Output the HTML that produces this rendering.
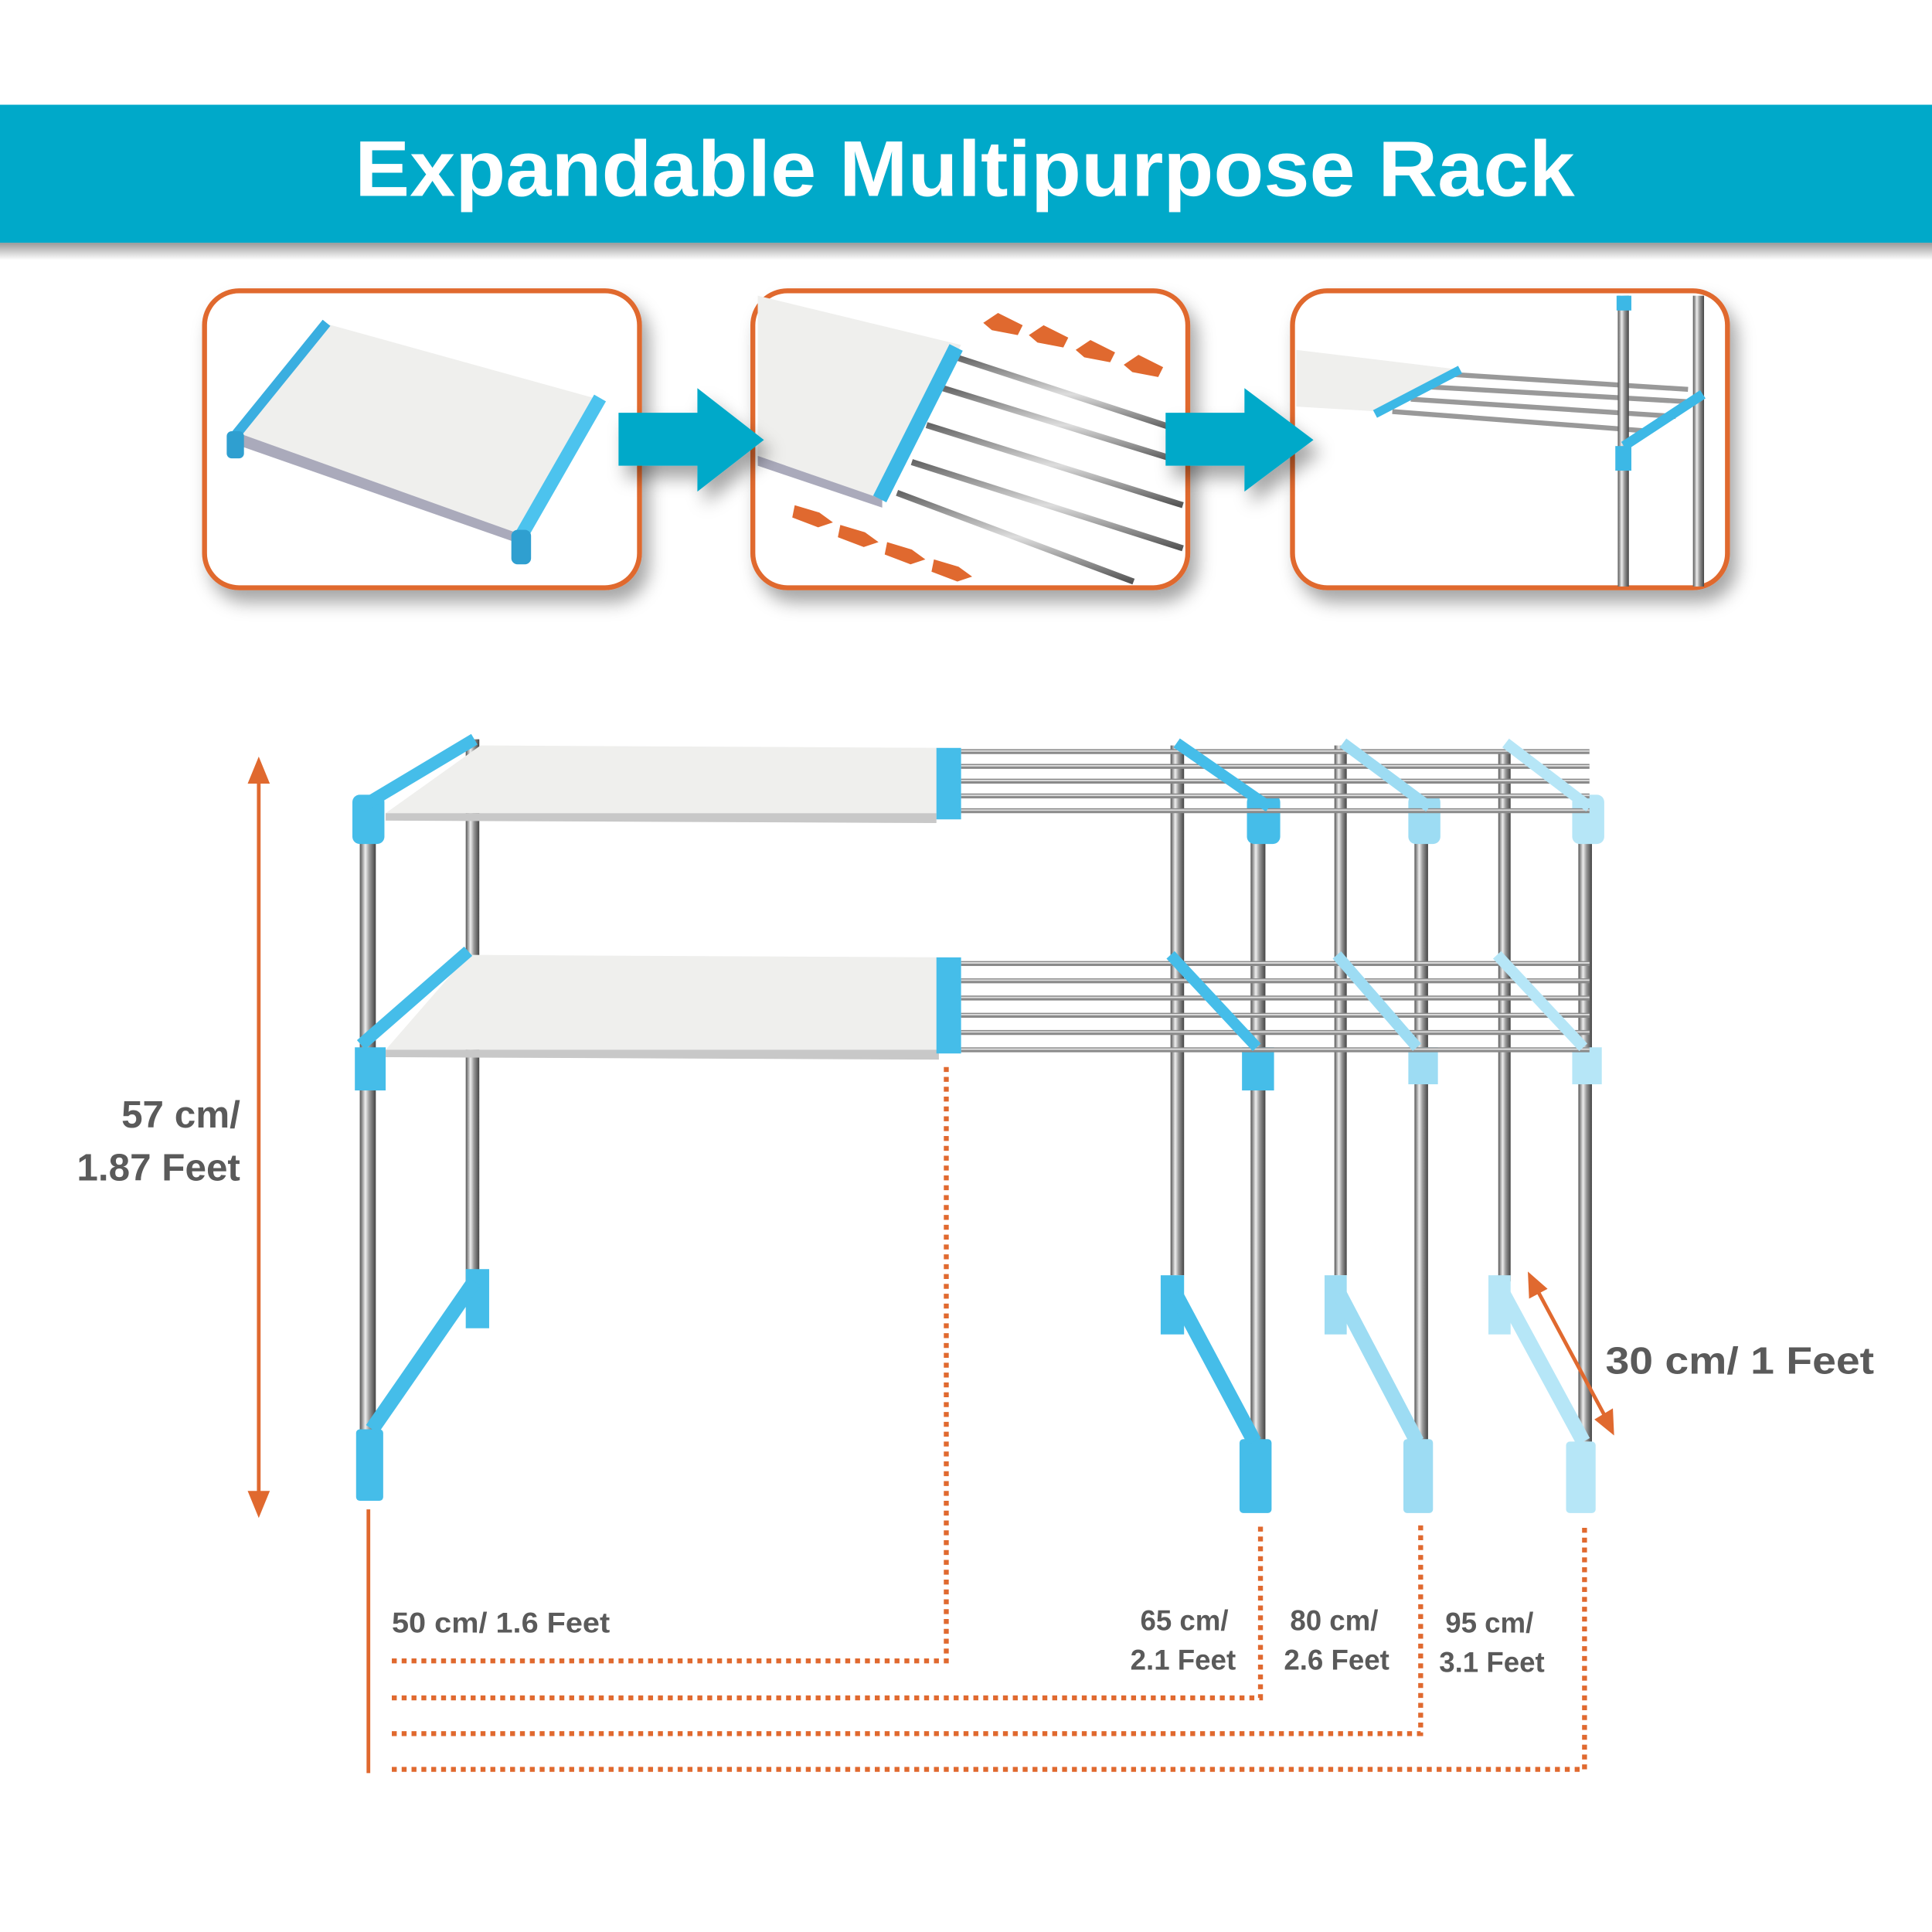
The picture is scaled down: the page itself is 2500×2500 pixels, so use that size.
<!DOCTYPE html>
<html><head><meta charset="utf-8"><style>
html,body{margin:0;padding:0;background:#fff;}
svg{display:block;}
</style></head><body>
<svg width="2500" height="2500" viewBox="0 0 1568 1568" xmlns="http://www.w3.org/2000/svg" font-family="Liberation Sans, sans-serif">
<defs>
<linearGradient id="steel" x1="0" x2="1" y1="0" y2="0">
<stop offset="0" stop-color="#555"/><stop offset="0.35" stop-color="#eee"/><stop offset="0.6" stop-color="#999"/><stop offset="1" stop-color="#444"/>
</linearGradient>
<linearGradient id="rod" x1="0" x2="0" y1="0" y2="1">
<stop offset="0" stop-color="#666"/><stop offset="0.5" stop-color="#ddd"/><stop offset="1" stop-color="#555"/>
</linearGradient>
<filter id="sh" x="-10%" y="-10%" width="130%" height="140%"><feDropShadow dx="6" dy="10" stdDeviation="7" flood-color="#000" flood-opacity="0.35"/></filter>
<linearGradient id="bshadow" x1="0" x2="0" y1="0" y2="1"><stop offset="0" stop-color="#999"/><stop offset="1" stop-color="#fff"/></linearGradient>
</defs>
<!-- banner -->
<rect x="0" y="197" width="1568" height="14" fill="url(#bshadow)"/>
<rect x="0" y="85" width="1568" height="112" fill="#00a9c9"/>
<text x="783" y="159" text-anchor="middle" font-size="64" font-weight="bold" fill="#fff" textLength="990" lengthAdjust="spacingAndGlyphs">Expandable Multipurpose Rack</text>

<!-- panels -->
<g filter="url(#sh)">
<rect x="166" y="236" width="353" height="241" rx="28" fill="#fff" stroke="#e0692f" stroke-width="4"/>
<rect x="611" y="236" width="353" height="241" rx="28" fill="#fff" stroke="#e0692f" stroke-width="4"/>
<rect x="1049" y="236" width="353" height="241" rx="28" fill="#fff" stroke="#e0692f" stroke-width="4"/>
</g>
<!-- panel1 content -->
<polygon points="195,352 262,262 482,323 418,432" fill="#efefed"/>
<polygon points="195,352 418,432 418,440 195,362" fill="#aab"/>
<line x1="188" y1="357" x2="265" y2="262" stroke="#3aaee0" stroke-width="8"/>
<line x1="420" y1="440" x2="487" y2="323" stroke="#4cc3ee" stroke-width="11"/>
<rect x="415" y="430" width="16" height="28" rx="5" fill="#2f9fd0"/>
<rect x="184" y="350" width="14" height="22" rx="4" fill="#2f9fd0"/>
<!-- panel2 content -->
<polygon points="615,240 780,280 716,405 615,370" fill="#efefed"/>
<polygon points="615,370 716,405 716,412 615,378" fill="#aab"/>
<g stroke="url(#rod)" stroke-width="5">
<line x1="776" y1="290" x2="960" y2="350"/><line x1="765" y1="315" x2="960" y2="375"/>
<line x1="752" y1="345" x2="960" y2="410"/><line x1="740" y1="375" x2="960" y2="445"/>
<line x1="728" y1="400" x2="920" y2="472"/>
</g>
<line x1="714" y1="405" x2="776" y2="282" stroke="#3cb8e6" stroke-width="12"/>
<g fill="#e0692f">
<polygon points="798,262 810,254 830,264 826,272 805,268"/><polygon points="835,272 847,264 867,274 863,282 842,278"/>
<polygon points="873,284 885,276 905,286 901,294 880,290"/><polygon points="912,296 924,288 944,298 940,306 919,302"/>
<polygon points="645,410 665,416 676,424 664,428 643,420"/><polygon points="682,426 702,432 713,440 701,444 680,436"/>
<polygon points="720,440 740,446 751,454 739,458 718,450"/><polygon points="758,454 778,460 789,468 777,472 756,464"/>
</g>
<!-- panel3 content -->
<polygon points="1052,284 1185,300 1120,334 1052,330" fill="#efefed"/>
<g stroke="#999" stroke-width="4">
<line x1="1180" y1="304" x2="1370" y2="316"/><line x1="1160" y1="314" x2="1370" y2="326"/>
<line x1="1145" y1="324" x2="1360" y2="338"/><line x1="1130" y1="334" x2="1340" y2="350"/>
</g>
<line x1="1116" y1="336" x2="1185" y2="300" stroke="#3cb8e6" stroke-width="7"/>
<rect x="1313" y="240" width="9" height="236" fill="url(#steel)"/>
<rect x="1374" y="240" width="9" height="236" fill="url(#steel)"/>
<rect x="1311" y="362" width="13" height="20" fill="#3cb8e6"/>
<line x1="1318" y1="362" x2="1382" y2="320" stroke="#3cb8e6" stroke-width="8"/>
<rect x="1312" y="240" width="12" height="12" fill="#3cb8e6"/>
<!-- flow arrows -->
<g filter="url(#sh)" fill="#00a9c9">
<polygon points="502,335 566,335 566,315 620,357 566,399 566,378 502,378"/>
<polygon points="946,335 1010,335 1010,315 1066,357 1010,399 1010,378 946,378"/>
</g>

<!-- height arrow -->
<line x1="210" y1="628" x2="210" y2="1218" stroke="#e0692f" stroke-width="3"/>
<polygon points="210,614 201,636 219,636" fill="#e0692f"/>
<polygon points="210,1232 201,1210 219,1210" fill="#e0692f"/>
<text x="195" y="915" text-anchor="end" font-size="31" font-weight="bold" fill="#5a5a5a">57 cm/</text>
<text x="195" y="958" text-anchor="end" font-size="31" font-weight="bold" fill="#5a5a5a">1.87 Feet</text>

<!-- rack: far extended legs -->
<g>
<rect x="1216" y="610" width="10" height="430" fill="url(#steel)"/>
<rect x="1281" y="660" width="11" height="510" fill="url(#steel)"/>
<rect x="1271" y="1170" width="24" height="58" rx="3" fill="#b6e6f7"/>
<rect x="1208" y="1035" width="18" height="48" fill="#b6e6f7"/>
<line x1="1220" y1="1050" x2="1285" y2="1170" stroke="#b6e6f7" stroke-width="12"/>
<rect x="1276" y="645" width="26" height="40" rx="6" fill="#b6e6f7"/>
<rect x="1276" y="850" width="24" height="30" fill="#b6e6f7"/>
<rect x="1083" y="605" width="10" height="430" fill="url(#steel)"/>
<rect x="1148" y="665" width="11" height="505" fill="url(#steel)"/>
<rect x="1139" y="1168" width="24" height="60" rx="3" fill="#9ddcf3"/>
<rect x="1075" y="1035" width="18" height="48" fill="#9ddcf3"/>
<line x1="1087" y1="1050" x2="1150" y2="1170" stroke="#9ddcf3" stroke-width="12"/>
<rect x="1143" y="645" width="26" height="40" rx="6" fill="#9ddcf3"/>
<rect x="1143" y="850" width="24" height="30" fill="#9ddcf3"/>
<rect x="950" y="605" width="11" height="430" fill="url(#steel)"/>
<rect x="1015" y="665" width="12" height="505" fill="url(#steel)"/>
<rect x="1006" y="1168" width="26" height="60" rx="3" fill="#45bde9"/>
<rect x="942" y="1035" width="19" height="48" fill="#45bde9"/>
<line x1="954" y1="1050" x2="1018" y2="1170" stroke="#45bde9" stroke-width="12"/>
<rect x="1012" y="645" width="27" height="40" rx="6" fill="#45bde9"/>
<rect x="1008" y="850" width="26" height="35" fill="#45bde9"/>
</g>
<!-- rods -->
<g stroke="#8a8a8a" stroke-width="4">
<line x1="780" y1="610" x2="1290" y2="610"/><line x1="780" y1="622" x2="1290" y2="622"/>
<line x1="780" y1="634" x2="1290" y2="634"/><line x1="780" y1="646" x2="1290" y2="646"/>
<line x1="780" y1="658" x2="1290" y2="658"/>
<line x1="780" y1="782" x2="1290" y2="782"/><line x1="780" y1="796" x2="1290" y2="796"/>
<line x1="780" y1="810" x2="1290" y2="810"/><line x1="780" y1="824" x2="1290" y2="824"/>
<line x1="780" y1="838" x2="1290" y2="838"/><line x1="780" y1="852" x2="1290" y2="852"/>
</g>
<g stroke="#dcdcdc" stroke-width="1.2">
<line x1="780" y1="609.5" x2="1290" y2="609.5"/><line x1="780" y1="621.5" x2="1290" y2="621.5"/>
<line x1="780" y1="633.5" x2="1290" y2="633.5"/><line x1="780" y1="645.5" x2="1290" y2="645.5"/>
<line x1="780" y1="657.5" x2="1290" y2="657.5"/>
<line x1="780" y1="781.5" x2="1290" y2="781.5"/><line x1="780" y1="795.5" x2="1290" y2="795.5"/>
<line x1="780" y1="809.5" x2="1290" y2="809.5"/><line x1="780" y1="823.5" x2="1290" y2="823.5"/>
<line x1="780" y1="837.5" x2="1290" y2="837.5"/><line x1="780" y1="851.5" x2="1290" y2="851.5"/>
</g>
<g stroke-width="9">
<line x1="955" y1="603" x2="1030" y2="655" stroke="#45bde9"/>
<line x1="1090" y1="603" x2="1160" y2="655" stroke="#9ddcf3"/>
<line x1="1222" y1="603" x2="1290" y2="655" stroke="#b6e6f7"/>
<line x1="950" y1="775" x2="1020" y2="850" stroke="#45bde9"/>
<line x1="1085" y1="775" x2="1150" y2="850" stroke="#9ddcf3"/>
<line x1="1215" y1="775" x2="1285" y2="850" stroke="#b6e6f7"/>
</g>
<!-- left section -->
<rect x="378" y="600" width="11" height="440" fill="url(#steel)"/>
<rect x="292" y="650" width="13" height="515" fill="url(#steel)"/>
<rect x="289" y="1160" width="22" height="58" rx="3" fill="#45bde9"/>
<rect x="378" y="1030" width="19" height="48" fill="#45bde9"/>
<line x1="385" y1="1040" x2="302" y2="1160" stroke="#45bde9" stroke-width="12"/>
<rect x="286" y="645" width="26" height="40" rx="6" fill="#45bde9"/>
<rect x="288" y="850" width="25" height="35" fill="#45bde9"/>
<!-- shelves -->
<polygon points="313,660 390,605 770,607 760,660" fill="#efefed"/>
<polygon points="313,660 760,660 760,668 313,666" fill="#c8c8c8"/>
<polygon points="313,852 380,775 770,777 762,852" fill="#efefed"/>
<polygon points="313,852 762,852 762,860 313,858" fill="#c8c8c8"/>
<line x1="293" y1="655" x2="385" y2="600" stroke="#45bde9" stroke-width="10"/>
<line x1="293" y1="848" x2="380" y2="772" stroke="#45bde9" stroke-width="10"/>
<rect x="760" y="607" width="20" height="58" fill="#45bde9"/>
<rect x="760" y="777" width="20" height="78" fill="#45bde9"/>

<!-- depth arrow -->
<line x1="1246" y1="1044" x2="1304" y2="1152" stroke="#e0692f" stroke-width="3"/>
<polygon points="1240,1032 1241,1054 1256,1046" fill="#e0692f"/>
<polygon points="1310,1165 1294,1152 1309,1143" fill="#e0692f"/>
<text x="1303" y="1115" font-size="31" font-weight="bold" fill="#5a5a5a" textLength="218" lengthAdjust="spacingAndGlyphs">30 cm/ 1 Feet</text>

<!-- dimension lines -->
<line x1="299" y1="1225" x2="299" y2="1439" stroke="#e0692f" stroke-width="3"/>
<g stroke="#e0692f" stroke-width="4" stroke-dasharray="4 4" fill="none">
<polyline points="318,1348 768,1348 768,862"/>
<polyline points="318,1378 1023,1378 1023,1238"/>
<polyline points="318,1407 1153,1407 1153,1238"/>
<polyline points="318,1436 1286,1436 1286,1238"/>
</g>
<g font-size="23" font-weight="bold" fill="#5a5a5a">
<text x="318" y="1325" textLength="177" lengthAdjust="spacingAndGlyphs">50 cm/ 1.6 Feet</text>
<text x="997" y="1323" text-anchor="end">65 cm/</text>
<text x="1003" y="1355" text-anchor="end">2.1 Feet</text>
<text x="1047" y="1323">80 cm/</text>
<text x="1042" y="1355">2.6 Feet</text>
<text x="1173" y="1325">95 cm/</text>
<text x="1168" y="1357">3.1 Feet</text>
</g>
</svg>
</body></html>
